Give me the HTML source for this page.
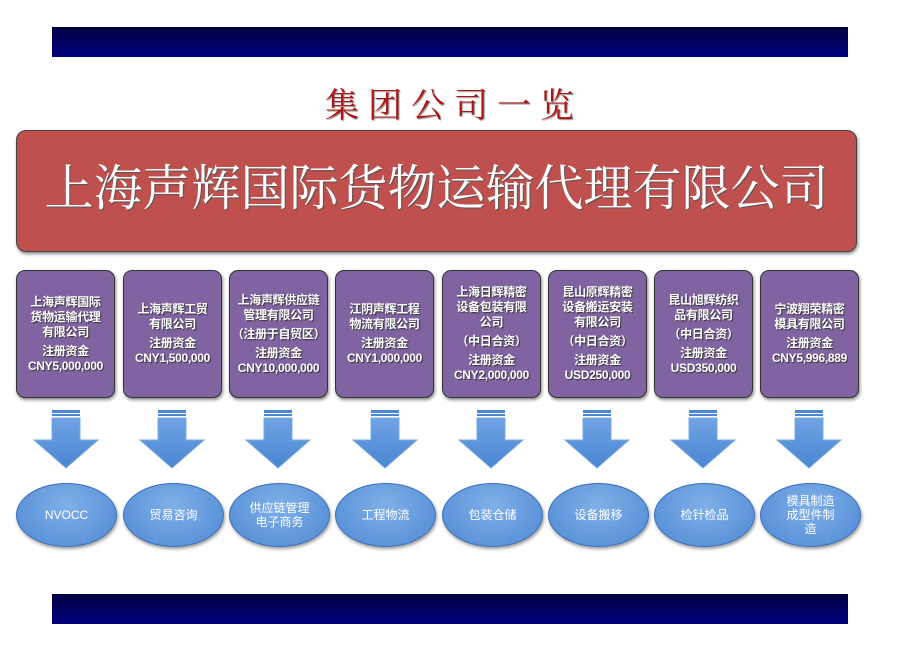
<!DOCTYPE html>
<html><head><meta charset="utf-8"><style>
body{margin:0;width:899px;height:646px;background:#fff;position:relative;overflow:hidden;font-family:"Liberation Sans","Noto Sans CJK SC",sans-serif}
.bar{position:absolute;left:52px;width:796px;height:30px;background:linear-gradient(#000040,#000080)}
.title{position:absolute;left:0;width:899px;top:78px;text-align:center;color:#b01515;font:34px "Liberation Serif","Noto Serif CJK SC",serif;letter-spacing:9px;text-indent:9px;text-shadow:1px 1px 1px #888}
.main{position:absolute;left:16px;top:130px;width:839px;height:120px;background:#c0504d;border:1px solid #444;border-radius:10px;box-shadow:1px 2px 3px #888;color:#fff;font:49px "Liberation Serif","Noto Serif CJK SC",serif;text-align:center;line-height:116px;text-shadow:1px 1px 1px #555;white-space:nowrap}
.box{position:absolute;top:270px;width:97px;height:126px;background:#8064a2;border:1px solid #333;border-radius:9px;box-shadow:1px 2px 3px #888;color:#fff;font-weight:bold;font-size:12px;line-height:15px;text-align:center;display:flex;flex-direction:column;justify-content:center;text-shadow:1px 1px 1px #333;letter-spacing:-0.3px}
.box p{margin:2px 0}
.ell{position:absolute;top:483px;width:99px;height:62px;border-radius:50%;background:radial-gradient(ellipse at 50% 35%,#7fb0e8,#4f88d4);border:1px solid #3b6fb6;color:#fff;font-size:12px;line-height:14px;display:flex;align-items:center;justify-content:center;text-align:center;box-shadow:1px 2px 3px #999}
</style></head><body>
<div class="bar" style="top:27px"></div>
<div class="bar" style="top:594px"></div>
<div class="title">集团公司一览</div>
<div class="main">上海声辉国际货物运输代理有限公司</div>

<div class="box" style="left:16px"><p>上海声辉国际<br>货物运输代理<br>有限公司</p><p>注册资金<br>CNY5,000,000</p></div>
<div class="box" style="left:123px"><p>上海声辉工贸<br>有限公司</p><p>注册资金<br>CNY1,500,000</p></div>
<div class="box" style="left:229px"><p>上海声辉供应链<br>管理有限公司</p><p>（注册于自贸区）</p><p>注册资金<br>CNY10,000,000</p></div>
<div class="box" style="left:335px"><p>江阴声辉工程<br>物流有限公司</p><p>注册资金<br>CNY1,000,000</p></div>
<div class="box" style="left:442px"><p>上海日辉精密<br>设备包装有限<br>公司</p><p>（中日合资）</p><p>注册资金<br>CNY2,000,000</p></div>
<div class="box" style="left:548px"><p>昆山原辉精密<br>设备搬运安装<br>有限公司</p><p>（中日合资）</p><p>注册资金<br>USD250,000</p></div>
<div class="box" style="left:654px"><p>昆山旭辉纺织<br>品有限公司</p><p>（中日合资）</p><p>注册资金<br>USD350,000</p></div>
<div class="box" style="left:760px"><p>宁波翔荣精密<br>模具有限公司</p><p>注册资金<br>CNY5,996,889</p></div>

<svg width="899" height="646" style="position:absolute;left:0;top:0" >
<defs><linearGradient id="g" x1="0" y1="0" x2="0" y2="1"><stop offset="0" stop-color="#6fa3e3"/><stop offset="1" stop-color="#4a86d2"/></linearGradient>
<g id="a"><rect x="-14" y="0" width="28" height="3" fill="#4a86d2"/><rect x="-14" y="4" width="28" height="2" fill="#4a86d2"/><path d="M-14 8H14V30H32L0 58L-32 30H-14Z" fill="url(#g)" stroke="#7aa9e0" stroke-width="1"/></g></defs>
<use href="#a" x="66" y="410"/><use href="#a" x="172" y="410"/><use href="#a" x="278" y="410"/><use href="#a" x="385" y="410"/>
<use href="#a" x="491" y="410"/><use href="#a" x="597" y="410"/><use href="#a" x="703" y="410"/><use href="#a" x="809" y="410"/>
</svg>

<div class="ell" style="left:16px">NVOCC</div>
<div class="ell" style="left:123px">贸易咨询</div>
<div class="ell" style="left:229px">供应链管理<br>电子商务</div>
<div class="ell" style="left:335px">工程物流</div>
<div class="ell" style="left:442px">包装仓储</div>
<div class="ell" style="left:548px">设备搬移</div>
<div class="ell" style="left:654px">检针检品</div>
<div class="ell" style="left:760px">模具制造<br>成型件制<br>造</div>
</body></html>
